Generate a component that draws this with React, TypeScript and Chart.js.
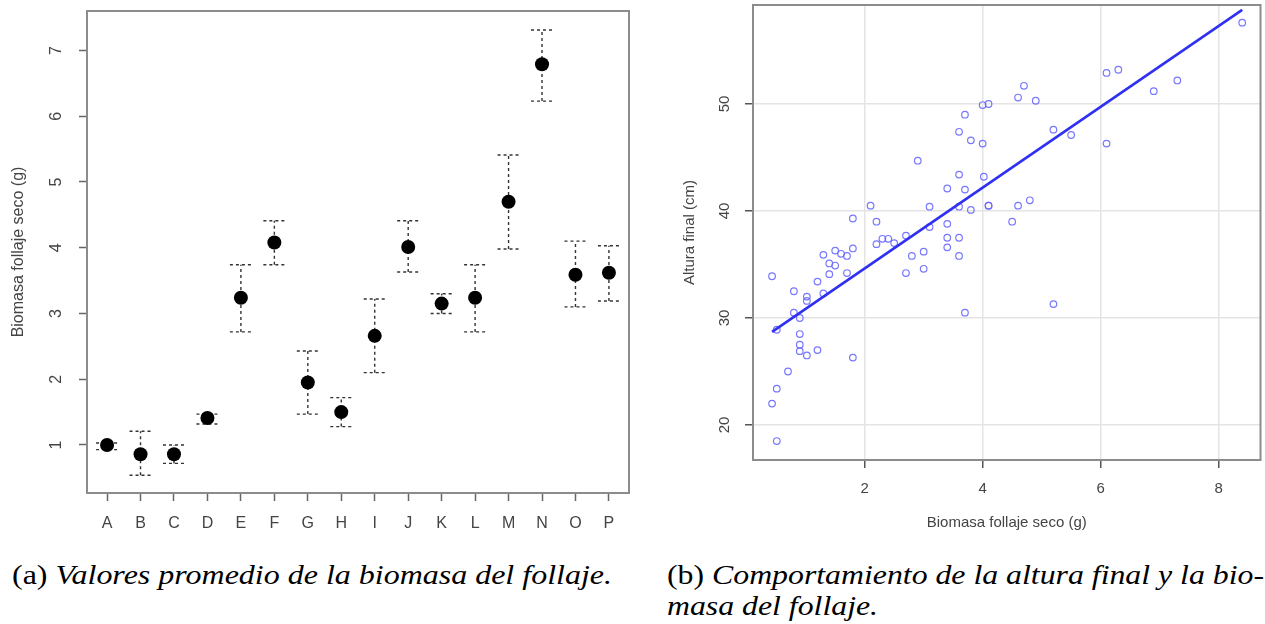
import React, { useEffect, useLayoutEffect, useRef } from "react";
import { Chart, registerables } from "chart.js";

Chart.register(...registerables);

// ---------- Panel (a): mean foliage biomass per treatment ----------
const groups = ["A", "B", "C", "D", "E", "F", "G", "H", "I", "J", "K", "L", "M", "N", "O", "P"];
const meanBiomass = [1.0, 0.86, 0.86, 1.41, 3.24, 4.08, 1.95, 1.5, 2.66, 4.01, 3.15, 3.24, 4.7, 6.79, 3.59, 3.62];
const lowerBiomass = [0.93, 0.54, 0.72, 1.32, 2.72, 3.74, 1.47, 1.28, 2.1, 3.63, 3.0, 2.72, 3.98, 6.23, 3.1, 3.19];
const upperBiomass = [1.03, 1.21, 1.0, 1.47, 3.74, 4.41, 2.43, 1.72, 3.22, 4.41, 3.3, 3.74, 5.41, 7.31, 4.1, 4.03];
const biomassTicks = [1, 2, 3, 4, 5, 6, 7];

// ---------- Panel (b): final height vs dry foliage biomass ----------
const biomassX = [
  0.43, 0.43, 0.51, 0.51, 0.51, 0.7, 0.8, 0.8, 0.9, 0.9, 0.9, 0.9, 1.02, 1.02, 1.02, 1.2, 1.2, 1.3, 1.3,
  1.4, 1.4, 1.5, 1.5, 1.6, 1.7, 1.7, 1.8, 1.8, 1.8, 2.1, 2.2, 2.2, 2.3, 2.4, 2.5, 2.7, 2.7, 2.8, 2.9,
  3.0, 3.0, 3.1, 3.1, 3.4, 3.4, 3.4, 3.4, 3.6, 3.6, 3.6, 3.6, 3.6, 3.7, 3.7, 3.7, 3.8, 3.8, 4.0, 4.0,
  4.02, 4.1, 4.1, 4.1, 4.5, 4.6, 4.6, 4.7, 4.8, 4.9, 5.2, 5.2, 5.5, 6.1, 6.1, 6.3, 6.9, 7.3, 8.4,
];
const alturaY = [
  33.9, 22.0, 18.5, 23.4, 28.9, 25.0, 32.5, 30.5, 30.0, 28.5, 27.5, 26.9, 26.5, 32.0, 31.6, 33.4, 27.0, 35.9, 32.3,
  35.1, 34.1, 36.3, 34.9, 36.0, 35.8, 34.2, 39.3, 36.5, 26.3, 40.5, 39.0, 36.9, 37.4, 37.4, 37.0, 37.7, 34.2, 35.8, 44.7,
  36.2, 34.6, 40.4, 38.5, 42.1, 38.8, 37.5, 36.6, 47.4, 43.4, 40.4, 37.5, 35.8, 49.0, 42.0, 30.5, 46.6, 40.1, 49.9, 46.3,
  43.2, 50.0, 40.5, 40.5, 39.0, 50.6, 40.5, 51.7, 41.0, 50.3, 47.6, 31.3, 47.1, 52.9, 46.3, 53.2, 51.2, 52.2, 57.6,
];
const fitX = [0.43, 8.4];
const fitY = [28.7, 58.8];
const heightXTicks = [2, 4, 6, 8];
const heightYTicks = [20, 30, 40, 50];

const TEXT = "#444";
const SANS = "'Liberation Sans', Arial, sans-serif";

const framePlugin = {
  id: "frame",
  afterDraw(chart: any, _args: any, opts: any) {
    const { ctx, chartArea: a } = chart;
    ctx.save();
    ctx.strokeStyle = opts.color || "#888";
    ctx.lineWidth = opts.width || 2;
    ctx.strokeRect(a.left, a.top, a.right - a.left, a.bottom - a.top);
    ctx.restore();
  },
};

// R-style y tick labels, rotated 90° (read bottom to top), taken from the scale's own ticks
const rotatedYLabels = {
  id: "rotY",
  afterDraw(chart: any, _args: any, opts: any) {
    const { ctx } = chart;
    const y = chart.scales.y;
    ctx.save();
    ctx.fillStyle = opts.color || TEXT;
    ctx.font = `${opts.size || 15}px ${SANS}`;
    ctx.textAlign = "center";
    ctx.textBaseline = "middle";
    y.ticks.forEach((t: any) => {
      const py = y.getPixelForValue(t.value);
      ctx.save();
      ctx.translate(y.right - opts.offset, py);
      ctx.rotate(-Math.PI / 2);
      ctx.fillText(String(t.value), 0, 0);
      ctx.restore();
    });
    ctx.restore();
  },
};

const errorBarPlugin = {
  id: "errorBars",
  beforeDatasetsDraw(chart: any) {
    const { ctx } = chart;
    const x = chart.scales.x;
    const y = chart.scales.y;
    ctx.save();
    ctx.strokeStyle = "#333";
    ctx.lineWidth = 1.4;
    ctx.setLineDash([3, 3]);
    groups.forEach((_g, i) => {
      const px = x.getPixelForValue(i + 1);
      const pl = y.getPixelForValue(lowerBiomass[i]);
      const pu = y.getPixelForValue(upperBiomass[i]);
      ctx.beginPath();
      ctx.moveTo(px, pl);
      ctx.lineTo(px, pu);
      ctx.moveTo(px - 11, pl);
      ctx.lineTo(px + 11, pl);
      ctx.moveTo(px - 11, pu);
      ctx.lineTo(px + 11, pu);
      ctx.stroke();
    });
    ctx.restore();
  },
};

function BiomassChart() {
  const ref = useRef<HTMLCanvasElement>(null);
  useEffect(() => {
    const chart = new Chart(ref.current as HTMLCanvasElement, {
      type: "scatter",
      data: {
        datasets: [
          {
            data: groups.map((_g, i) => ({ x: i + 1, y: meanBiomass[i] })),
            pointRadius: 7,
            pointHoverRadius: 7,
            backgroundColor: "#000",
            borderColor: "#000",
            borderWidth: 0,
          },
        ],
      },
      options: {
        responsive: false,
        animation: false,
        layout: { padding: { top: 11, right: 11, left: 0, bottom: 0 } },
        plugins: {
          legend: { display: false },
          tooltip: { enabled: false },
          frame: { color: "#8c8c8c", width: 2 },
          rotY: { offset: 30, size: 16 },
        } as any,
        scales: {
          x: {
            type: "linear",
            min: 0.4,
            max: 16.6,
            afterBuildTicks: (s: any) => {
              s.ticks = groups.map((_g, i) => ({ value: i + 1 }));
            },
            afterFit: (s: any) => {
              s.height = 47;
            },
            ticks: {
              callback: (v: any) => groups[Math.round(v) - 1],
              autoSkip: false,
              maxRotation: 0,
              minRotation: 0,
              color: TEXT,
              font: { family: SANS, size: 16 },
              padding: 13,
            },
            grid: { drawOnChartArea: false, tickLength: 8, tickColor: "#666", tickWidth: 1.5 },
            border: { display: false },
          },
          y: {
            type: "linear",
            min: 0.27,
            max: 7.6,
            afterBuildTicks: (s: any) => {
              s.ticks = biomassTicks.map((v) => ({ value: v }));
            },
            afterFit: (s: any) => {
              s.width = 87;
            },
            ticks: { display: false },
            grid: { drawOnChartArea: false, tickLength: 8, tickColor: "#666", tickWidth: 1.5 },
            border: { display: false },
            title: {
              display: true,
              text: "Biomasa follaje seco (g)",
              color: TEXT,
              font: { family: SANS, size: 16 },
              padding: { top: 9, bottom: 0 },
            },
          },
        },
      } as any,
      plugins: [framePlugin, errorBarPlugin, rotatedYLabels],
    });
    return () => chart.destroy();
  }, []);
  return <canvas ref={ref} width={640} height={540} style={{ position: "absolute", left: 0, top: 0 }} />;
}

function HeightChart() {
  const ref = useRef<HTMLCanvasElement>(null);
  useEffect(() => {
    const chart = new Chart(ref.current as HTMLCanvasElement, {
      type: "scatter",
      data: {
        datasets: [
          {
            type: "line",
            data: fitX.map((x, i) => ({ x, y: fitY[i] })),
            borderColor: "#3030f2",
            borderWidth: 2.6,
            pointRadius: 0,
            fill: false,
          } as any,
          {
            data: biomassX.map((x, i) => ({ x, y: alturaY[i] })),
            pointRadius: 3.3,
            pointHoverRadius: 3.3,
            backgroundColor: "rgba(0,0,0,0)",
            borderColor: "rgba(105,105,255,0.9)",
            borderWidth: 1.2,
          },
        ],
      },
      options: {
        responsive: false,
        animation: false,
        layout: { padding: { top: 5, right: 3, left: 0, bottom: 0 } },
        plugins: {
          legend: { display: false },
          tooltip: { enabled: false },
          frame: { color: "#8c8c8c", width: 2 },
          rotY: { offset: 28, size: 15 },
        } as any,
        scales: {
          x: {
            type: "linear",
            min: 0.107,
            max: 8.71,
            afterBuildTicks: (s: any) => {
              s.ticks = heightXTicks.map((v) => ({ value: v }));
            },
            afterFit: (s: any) => {
              s.height = 80;
            },
            ticks: {
              maxRotation: 0,
              minRotation: 0,
              color: TEXT,
              font: { family: SANS, size: 15 },
              padding: 12,
            },
            grid: { color: "#e4e4e4", lineWidth: 1.5, tickLength: 8, tickColor: "#555", tickWidth: 1.5 },
            border: { display: false },
            title: {
              display: true,
              text: "Biomasa follaje seco (g)",
              color: TEXT,
              font: { family: SANS, size: 15 },
              padding: { top: 0, bottom: 8 },
            },
          },
          y: {
            type: "linear",
            min: 16.73,
            max: 59.25,
            afterBuildTicks: (s: any) => {
              s.ticks = heightYTicks.map((v) => ({ value: v }));
            },
            afterFit: (s: any) => {
              s.width = 93;
            },
            ticks: { display: false },
            grid: { color: "#e4e4e4", lineWidth: 1.5, tickLength: 8, tickColor: "#555", tickWidth: 1.5 },
            border: { display: false },
            title: {
              display: true,
              text: "Altura final (cm)",
              color: TEXT,
              font: { family: SANS, size: 15 },
              padding: { top: 21, bottom: 0 },
            },
          },
        },
      } as any,
      plugins: [framePlugin, rotatedYLabels],
    });
    return () => chart.destroy();
  }, []);
  return <canvas ref={ref} width={605} height={540} style={{ position: "absolute", left: 660, top: 0 }} />;
}

function Caption(props: { left: number; top: number; width: number; tag: string; line1: string; line2?: string }) {
  const ref = useRef<HTMLDivElement>(null);
  const firstRef = useRef<HTMLSpanElement>(null);
  useLayoutEffect(() => {
    const el = ref.current;
    const first = firstRef.current;
    if (!el || !first) return;
    const w = first.getBoundingClientRect().width;
    if (w > 0) el.style.transform = `scaleX(${props.width / w})`;
  }, []);
  return (
    <div
      ref={ref}
      style={{
        position: "absolute",
        left: props.left,
        top: props.top,
        transformOrigin: "0 0",
        fontFamily: "'Liberation Serif', 'Times New Roman', serif",
        fontSize: 28,
        lineHeight: "31px",
        whiteSpace: "nowrap",
        color: "#000",
      }}
    >
      <span ref={firstRef} style={{ display: "inline-block" }}>
        <span style={{ fontStyle: "normal" }}>{props.tag}</span> <i>{props.line1}</i>
      </span>
      {props.line2 ? (
        <>
          <br />
          <i>{props.line2}</i>
        </>
      ) : null}
    </div>
  );
}

export default function App() {
  return (
    <div style={{ position: "absolute", left: 0, top: 0, width: 1265, height: 624, background: "#fff", overflow: "hidden" }}>
      <BiomassChart />
      <HeightChart />
      <Caption left={12} top={559} width={600} tag="(a)" line1="Valores promedio de la biomasa del follaje." />
      <Caption
        left={667}
        top={559}
        width={597}
        tag="(b)"
        line1="Comportamiento de la altura final y la bio-"
        line2="masa del follaje."
      />
    </div>
  );
}
